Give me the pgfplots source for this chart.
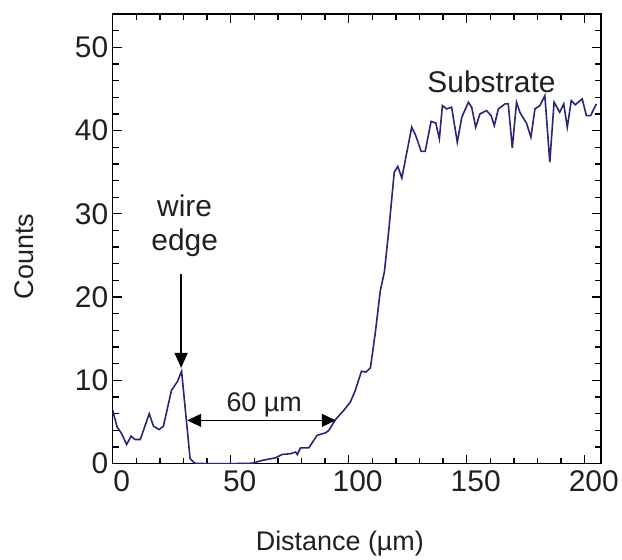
\documentclass[border=0pt]{standalone}
\usepackage{pgfplots}
\pgfplotsset{compat=1.18}
\usepackage{fontspec}
\setmainfont{Liberation Sans}
\usetikzlibrary{arrows.meta}
\definecolor{trace}{RGB}{38,38,120}
\definecolor{ink}{RGB}{35,31,32}
\newcommand{\bigtext}{\fontsize{27}{32}\selectfont}
\newcommand{\hugetext}{\fontsize{30}{34}\selectfont}
\begin{document}
\begin{tikzpicture}
\begin{axis}[
  scale only axis, width=490pt, height=451pt,
  xmin=0, xmax=207, ymin=0, ymax=54,
  axis line style={line width=1.6pt},
  xtick={0,50,100,150,200}, minor xtick={10,20,30,40,60,70,80,90,110,120,130,140,160,170,180,190},
  ytick={0,10,20,30,40,50}, minor ytick={2,4,6,8,12,14,16,18,22,24,26,28,32,34,36,38,42,44,46,48,52},
  tick align=inside, major tick length=9pt, minor tick length=6pt,
  every tick/.style={line width=1.3pt, black},
  tick label style={font=\hugetext, text=ink},
  /pgf/number format/assume math mode=true,
  xticklabel style={xshift=9pt, yshift=-3pt},
  yticklabel style={xshift=-1pt},
  xlabel={Distance (µm)}, ylabel={Counts},
  label style={font=\bigtext, text=ink},
  xlabel style={at={(rel axis cs:0.465,-0.177)}, anchor=center},
  ylabel style={at={(rel axis cs:-0.18,0.461)}, anchor=center},
]
\addplot[trace, line width=1.6pt] coordinates {
(0,6.4) (1.9,4.4) (3.8,3.6) (5.9,2.3) (7.8,3.3) (9.5,2.9) (11.7,2.9)
(15.5,6.0) (17.3,4.5) (19.7,4.1) (21.5,4.5) (24.9,8.8) (27.5,9.9) (29.2,11.1)
(32.8,0.6) (34.8,0.05) (40,0) (50,0) (59.2,0.05) (63.4,0.4) (69,0.7)
(71.8,1.1) (75.4,1.2) (77.5,1.4) (78.2,1.1) (79.6,1.9) (83.1,1.9) (86.6,3.4)
(90.2,3.7) (91.6,4.0) (94.4,5.3) (97.9,6.4) (100.7,7.4) (102.8,8.8)
(105.4,11.1) (107.3,11.0) (109.2,11.5) (111.3,15.8) (113.4,20.8) (115.1,23.0)
(116.9,27.8) (119.3,35.0) (120.8,35.7) (122.5,34.3) (126.7,40.4) (128.4,39.4)
(130.7,37.5) (132.4,37.5) (134.9,41.1) (136.9,40.9) (138.4,39.0) (139.7,43.0)
(141.5,42.6) (143.6,42.8) (146.0,38.6) (147.9,41.6) (150.7,43.4) (152.1,42.8)
(153.8,40.4) (155.6,42.0) (158.4,42.4) (160.3,41.8) (161.7,40.6) (163.4,42.6)
(166.2,43.2) (167.6,43.2) (169.3,37.9) (171.1,43.4) (172.5,42.2) (174.4,41.3)
(175.3,40.9) (177.2,39.2) (178.9,42.6) (181.0,43.0) (183.1,44.2) (185.2,36.2)
(187.0,43.4) (189.4,42.2) (191.1,43.2) (192.6,40.4) (194.3,43.6) (196.0,43.1)
(198.9,43.8) (200.7,41.8) (202.5,41.8) (204.9,43.2)
};
\draw[line width=1.5pt, -{Triangle[length=15pt,width=13pt]}] (axis cs:29.0,22.8) -- (axis cs:29.0,11.5);
\draw[line width=1.5pt, {Triangle[length=14pt,width=13pt]}-{Triangle[length=14pt,width=13pt]}] (axis cs:31.6,5.2) -- (axis cs:94.5,5.2);
\node[font=\bigtext, text=ink] at (axis cs:64.2,7.0) {60 µm};
\node[font=\hugetext, text=ink, align=center] at (axis cs:30.5,28.6) {wire\\edge};
\node[font=\hugetext, text=ink] at (axis cs:160.5,45.8) {Substrate};
\end{axis}
\path (current axis.south west) ++(-113pt,-93pt) rectangle ++(622pt,558pt);
\end{tikzpicture}
\end{document}
